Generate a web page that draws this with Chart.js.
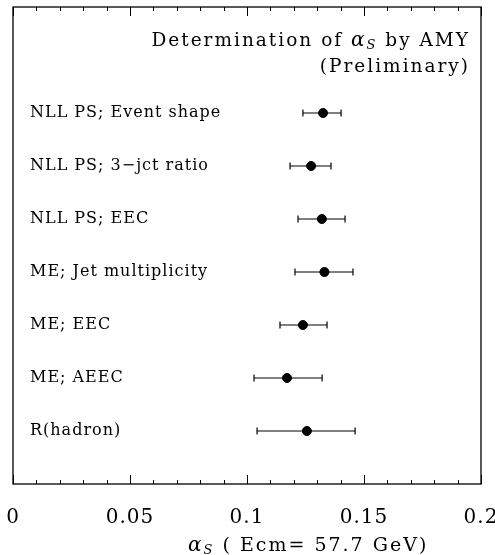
<!DOCTYPE html>
<html>
<head>
<meta charset="utf-8">
<script src="https://cdn.jsdelivr.net/npm/chart.js@4.4.0/dist/chart.umd.min.js"></script>
<style>
html,body{margin:0;padding:0;background:#fff;}
#wrap{width:495px;height:555px;}
</style>
</head>
<body>
<div id="wrap"><canvas id="c" width="495" height="555"></canvas></div>
<script>
// ---- data ----
const categories = [
  "NLL PS; Event shape",
  "NLL PS; 3\u2212jct ratio",
  "NLL PS; EEC",
  "ME; Jet multiplicity",
  "ME; EEC",
  "ME; AEEC",
  "R(hadron)"
];
const rowPositions = [2, 3, 4, 5, 6, 7, 8];
const alphaValues = [0.1325, 0.1274, 0.1320, 0.1331, 0.1239, 0.1171, 0.1256];
const alphaLow    = [0.1239, 0.1184, 0.1218, 0.1205, 0.1141, 0.1030, 0.1043];
const alphaHigh   = [0.1402, 0.1359, 0.1419, 0.1453, 0.1342, 0.1321, 0.1462];
const xTickLabels = ["0", "0.05", "0.1", "0.15", "0.2"];
const titleLines = ["Determination of ", "\u03b1", "S", " by AMY", "(Preliminary)"];
const xTitleParts = ["\u03b1", "S", " ( Ecm= 57.7 GeV)"];

const SERIF = "'DejaVu Serif', serif";
const LS_LABEL = '1px';
const LS_TITLE = '2px';

// error-bar datasets (one per row)
const datasets = [];
categories.forEach((c, i) => {
  datasets.push({
    type: 'line',
    label: c + ' error',
    data: [{x: alphaLow[i], y: rowPositions[i]}, {x: alphaHigh[i], y: rowPositions[i]}],
    borderColor: '#000',
    borderWidth: 1.2,
    pointStyle: 'line',
    rotation: 90,
    pointRadius: 3.5,
    pointBorderWidth: 1.2,
    pointBorderColor: '#000',
    fill: false,
    tension: 0
  });
});
datasets.push({
  type: 'scatter',
  label: 'alpha_s',
  data: alphaValues.map((v, i) => ({x: v, y: rowPositions[i]})),
  backgroundColor: '#000',
  borderColor: '#000',
  pointRadius: 4.5,
  pointStyle: 'circle'
});

const frameAndText = {
  id: 'frameAndText',
  beforeDraw(chart) {
    chart.ctx.letterSpacing = LS_LABEL;
  },
  afterDraw(chart) {
    const ctx = chart.ctx;
    const a = chart.chartArea;
    const xs = chart.scales.x;
    ctx.save();
    ctx.strokeStyle = '#000';
    ctx.fillStyle = '#000';
    ctx.lineWidth = 1.3;
    ctx.strokeRect(a.left, a.top, a.right - a.left, a.bottom - a.top);
    // inward ticks top & bottom
    for (let i = 0; i <= 20; i++) {
      const v = i / 100;
      const px = Math.round(xs.getPixelForValue(v));
      const major = i % 5 === 0;
      const len = major ? 9 : 4;
      ctx.fillRect(px, Math.round(a.bottom - len), 1, len);
      ctx.fillRect(px, Math.round(a.top), 1, len);
    }
    ctx.letterSpacing = LS_TITLE;
    ctx.textBaseline = 'alphabetic';
    // title inside plot, right aligned
    const rightX = 470;
    const f = "18.5px " + SERIF;
    const fi = "italic 20px " + SERIF;
    const fs = "italic 13px " + SERIF;
    ctx.font = f; const w0 = ctx.measureText(titleLines[0]).width;
    ctx.font = fi; const w1 = ctx.measureText(titleLines[1]).width;
    ctx.font = fs; const w2 = ctx.measureText(titleLines[2]).width;
    ctx.font = f; const w3 = ctx.measureText(titleLines[3]).width;
    let x = rightX - (w0 + w1 + w2 + w3);
    const y1 = 46;
    ctx.textAlign = 'left';
    ctx.font = f; ctx.fillText(titleLines[0], x, y1); x += w0;
    ctx.font = fi; ctx.fillText(titleLines[1], x, y1); x += w1;
    ctx.font = fs; ctx.fillText(titleLines[2], x, y1 + 3); x += w2;
    ctx.font = f; ctx.fillText(titleLines[3], x, y1);
    ctx.textAlign = 'right';
    ctx.fillText(titleLines[4], rightX, 72);
    // x-axis title
    ctx.textAlign = 'left';
    ctx.font = fi; const t0 = ctx.measureText(xTitleParts[0]).width;
    ctx.font = fs; const t1 = ctx.measureText(xTitleParts[1]).width;
    let tx = 188; const ty = 551;
    ctx.font = fi; ctx.fillText(xTitleParts[0], tx, ty); tx += t0;
    ctx.font = fs; ctx.fillText(xTitleParts[1], tx, ty + 3); tx += t1;
    ctx.font = "19px " + SERIF; ctx.fillText(xTitleParts[2], tx, ty);
    ctx.restore();
  }
};

new Chart(document.getElementById('c'), {
  data: { datasets },
  options: {
    responsive: false,
    animation: false,
    devicePixelRatio: 1,
    layout: { padding: { left: 13, right: 14, top: 7, bottom: 11 } },
    plugins: { legend: { display: false }, tooltip: { enabled: false }, title: { display: false } },
    scales: {
      x: {
        type: 'linear', min: 0, max: 0.2,
        grid: { display: false },
        border: { display: false },
        afterFit: (s) => { s.paddingLeft = 0; s.paddingRight = 0; },
        ticks: {
          stepSize: 0.05,
          padding: 14,
          color: '#000',
          font: { family: SERIF, size: 20 },
          maxRotation: 0,
          autoSkip: false,
          callback: (v) => {
            const k = Math.round(v / 0.05);
            return Math.abs(v - k * 0.05) < 1e-9 ? xTickLabels[k] : '';
          }
        }
      },
      y: {
        type: 'linear', min: 0, max: 9, reverse: true,
        grid: { display: false },
        border: { display: false },
        afterFit: (s) => { s.width = 0; s.paddingTop = 0; s.paddingBottom = 0; },
        ticks: {
          mirror: true,
          padding: 17,
          stepSize: 1,
          color: '#000',
          font: { family: SERIF, size: 16 },
          callback: (v) => {
            const idx = rowPositions.indexOf(v);
            return idx >= 0 ? categories[idx] : '';
          }
        }
      }
    }
  },
  plugins: [frameAndText]
});
</script>
</body>
</html>
